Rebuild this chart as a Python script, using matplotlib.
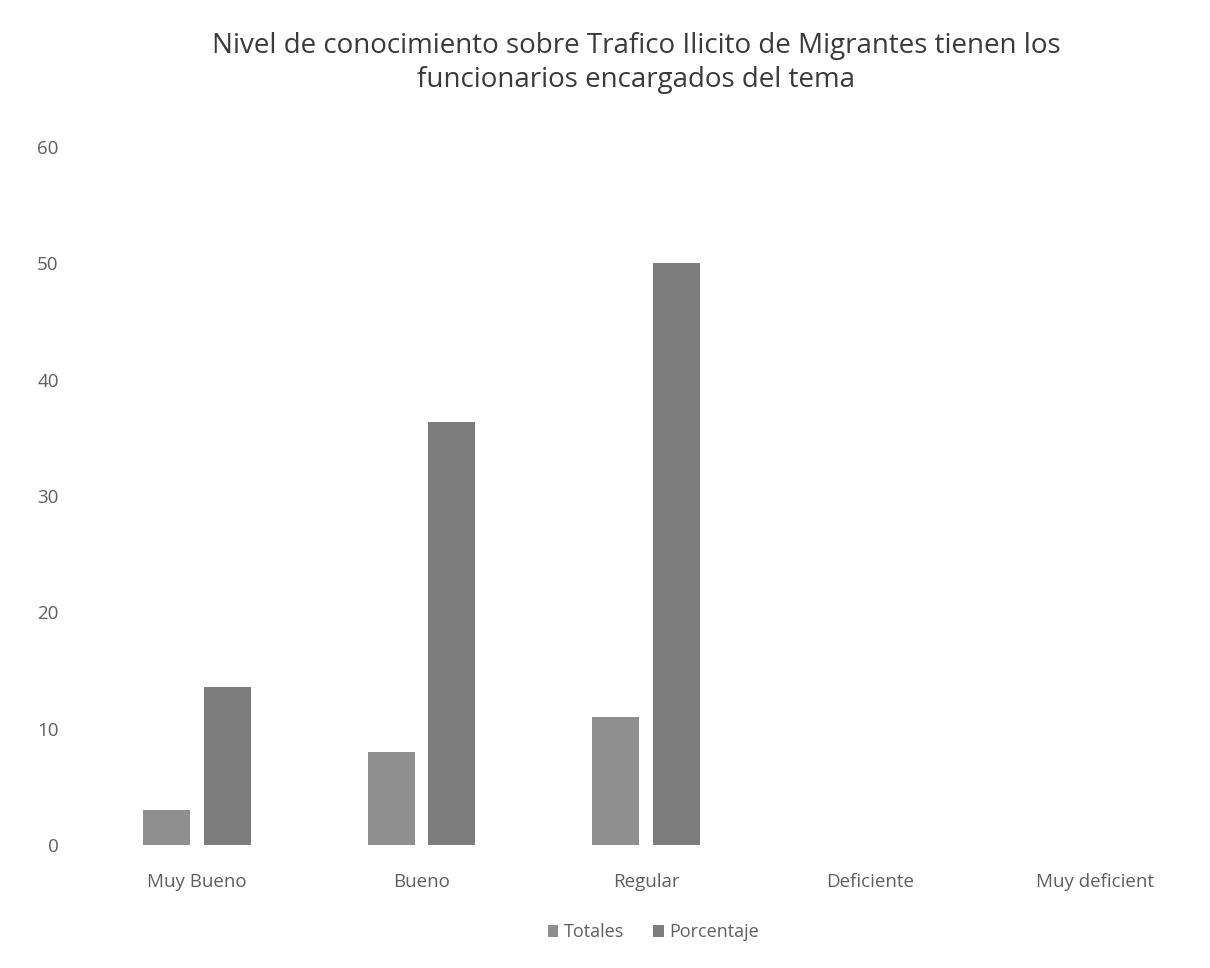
import numpy as np
from matplotlib import pyplot as plt

# data
categorias = ["Muy Bueno", "Bueno", "Regular", "Deficiente", "Muy deficient"]
totales = [3, 8, 11, 0, 0]
porcentaje = [13.6, 36.4, 50, 0, 0]
y_ticks = [0, 10, 20, 30, 40, 50, 60]

titulo = ("Nivel de conocimiento sobre Trafico Ilicito de Migrantes tienen los\n"
          "funcionarios encargados del tema")

plt.rcParams['font.family'] = ['Open Sans', 'DejaVu Sans']

fig = plt.figure(figsize=(12.1, 9.68), dpi=100)
ax = fig.add_axes([0.076, 0.127, 0.924, 0.721])

x = np.arange(len(categorias))
ancho = 0.21
ax.bar(x - 0.135, totales, ancho, color='#8f8f8f', label='Totales')
ax.bar(x + 0.135, porcentaje, ancho, color='#7d7d7d', label='Porcentaje')

ax.set_xlim(-0.468, 4.512)
ax.set_ylim(0, 60)
ax.set_yticks(y_ticks)
ax.set_xticks(x)
ax.set_xticklabels(categorias)
ax.tick_params(length=0, labelsize=13.5, labelcolor='#5f5f5f')
ax.tick_params(axis='x', pad=20)
ax.tick_params(axis='y', pad=24)
for s in ax.spines.values():
  s.set_visible(False)

fig.text(0.526, 0.935, titulo, ha='center', va='center', fontsize=20,
         color='#3a3a3a', linespacing=1.3)

ax.legend(loc='center', bbox_to_anchor=(0.502, -0.125), ncol=2, frameon=False,
          fontsize=13, labelcolor='#5f5f5f', handlelength=0.6, handleheight=0.6,
          columnspacing=1.6, handletextpad=0.3)

fig.savefig('out.png', dpi=100, facecolor='white')
